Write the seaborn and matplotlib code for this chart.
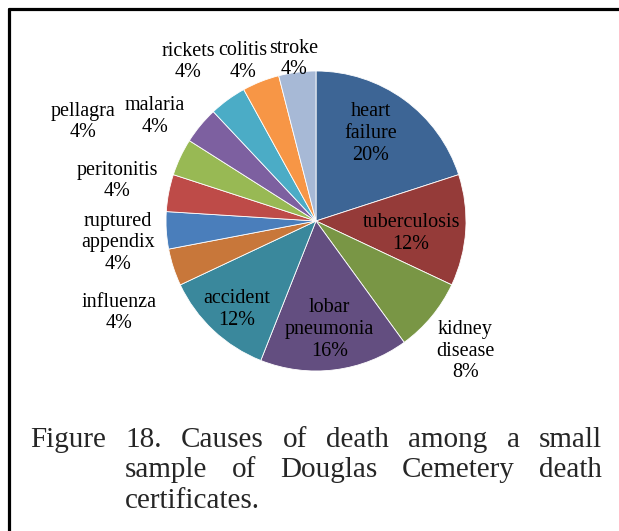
import numpy as np
import matplotlib
matplotlib.use("Agg")
import matplotlib.pyplot as plt
import seaborn as sns
from matplotlib.lines import Line2D

# ==============================================================================
# Data
# ==============================================================================
causes = ["heart\nfailure", "tuberculosis", "kidney\ndisease", "lobar\npneumonia",
          "accident", "influenza", "ruptured\nappendix", "peritonitis", "pellagra",
          "malaria", "rickets", "colitis", "stroke"]
shares = [20, 12, 8, 16, 12, 4, 4, 4, 4, 4, 4, 4, 4]
colors = ["#3D6595", "#953B39", "#799645", "#634E80", "#3A889C", "#C8773A", "#4A7EBB",
          "#BE4B48", "#98B954", "#7D60A0", "#4BACC6", "#F79646", "#A7B9D6"]

caption_lines = [
    "Figure 18. Causes of death among a small",
    "sample of Douglas Cemetery death",
    "certificates.",
]

# label placement (radius factor, angle nudge in degrees) -- Excel "best fit" look
label_r = [0.69, 0.64, 1.32, 0.73, 0.79, 1.45, 1.33, 1.35, 1.69, 1.28, 1.36, 1.17, 1.09]
label_dang = [4, -4, -1.5, 0, 1.5, 7, 2.7, -0.6, 2.2, 6.5, 2.8, 3.1, 0.5]

# ==============================================================================
# Figure
# ==============================================================================
sns.set_theme(style="white")
plt.rcParams["font.family"] = ["Liberation Serif", "DejaVu Serif"]

W, H = 619, 531
fig = plt.figure(figsize=(W / 100, H / 100), dpi=100)

cx, cy, R = 316, 221, 150
ax = fig.add_axes([(cx - R) / W, (H - cy - R) / H, 2 * R / W, 2 * R / H])
pal = sns.color_palette(colors)
wedges, _ = ax.pie(shares, colors=pal, startangle=90, counterclock=False, radius=1,
                   wedgeprops=dict(edgecolor="white", linewidth=0.6))
ax.set_xlim(-1, 1)
ax.set_ylim(-1, 1)
ax.set_aspect("equal")
ax.axis("off")

total = sum(shares)
for w, name, val, rf, da in zip(wedges, causes, shares, label_r, label_dang):
    mid = np.deg2rad((w.theta1 + w.theta2) / 2 + da)
    ax.text(rf * np.cos(mid), rf * np.sin(mid), f"{name}\n{round(val / total * 100)}%",
            ha="center", va="center", fontsize=14.5, linespacing=1.2,
            color="black", clip_on=False)

# border (only top and left edges visible in the crop)
fig.add_artist(Line2D([9 / W, 9 / W], [0, 1 - 9 / H], color="black", lw=2.3))
fig.add_artist(Line2D([9 / W, 1], [1 - 9 / H, 1 - 9 / H], color="black", lw=2.3))

# justified caption
renderer = fig.canvas.get_renderer()
line_specs = [(30, 602, 447, True), (125, 602, 477, True), (125, None, 508, False)]
for text, (x0, x1, yb, justify) in zip(caption_lines, line_specs):
    words = text.split(" ")
    objs = [fig.text(0, 1 - yb / H, wd, fontsize=21, ha="left", va="baseline")
            for wd in words]
    widths = [o.get_window_extent(renderer).width for o in objs]
    if justify and len(words) > 1:
        gap = (x1 - x0 - sum(widths)) / (len(words) - 1)
    else:
        gap = 5
    x = x0
    for o, wdt in zip(objs, widths):
        o.set_x(x / W)
        x += wdt + gap

fig.savefig("out.png", dpi=100)
